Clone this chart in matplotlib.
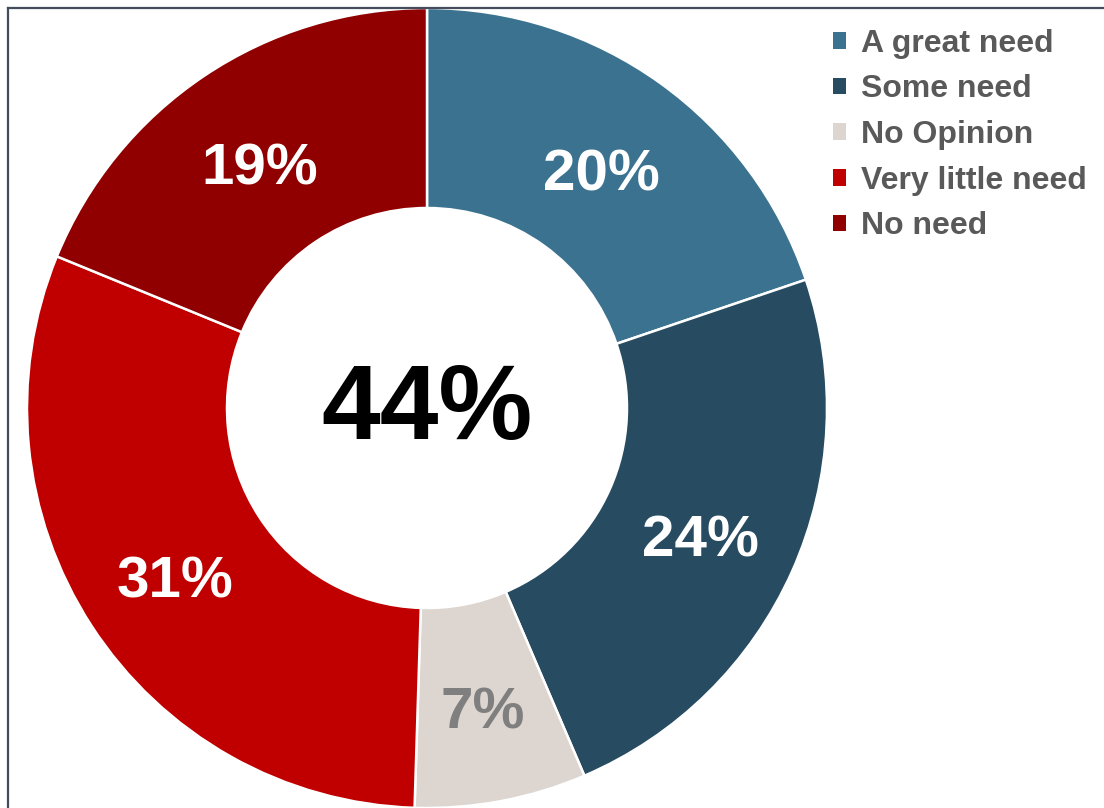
import matplotlib
matplotlib.use('Agg')
import numpy as np
import matplotlib.pyplot as plt
from matplotlib.patches import Patch
from matplotlib.lines import Line2D

# survey answers, going clockwise from the top
labels = ['A great need', 'Some need', 'No Opinion', 'Very little need', 'No need']
values = [20, 24, 7, 31, 19]
colors = ['#3a728f', '#274b61', '#ddd5cf', '#c00000', '#900000']
label_colors = ['white', 'white', '#7f7f7f', 'white', 'white']

# share answering "a great need" or "some need"
total_need = values[0] + values[1]

W, H = 1104, 808
fig = plt.figure(figsize=(W / 100, H / 100), dpi=100)
ax = fig.add_axes([0, 0, 1, 1])

cx, cy, R = 427, 808 - 408, 400
wedges, _ = ax.pie(values, colors=colors, startangle=90, counterclock=False,
                   center=(cx, cy), radius=R,
                   wedgeprops=dict(width=R * 0.5, edgecolor='white', linewidth=1.8))
ax.set_xlim(0, W)
ax.set_ylim(0, H)
ax.set_aspect('auto')
ax.axis('off')

CAP = 0.716 * 100 / 72  # cap height in px per point (Arial metrics)

lab_size = 42
for w, v, c in zip(wedges, values, label_colors):
    mid = np.deg2rad((w.theta1 + w.theta2) / 2)
    r = R * 0.75
    x = cx + r * np.cos(mid)
    y = cy + r * np.sin(mid) - 5
    ax.text(x, y - lab_size * CAP / 2, f'{v}%', color=c,
            ha='center', va='baseline', fontsize=lab_size, fontweight='bold',
            family='Liberation Sans')

big_size = 76
ax.text(cx, cy + 7 - big_size * CAP / 2, f'{total_need}%', ha='center', va='baseline',
        fontsize=big_size, fontweight='bold', color='black', family='Liberation Sans')

handles = [Patch(facecolor=c, edgecolor='none') for c in colors]
leg = ax.legend(handles, labels, loc='upper left', bbox_to_anchor=(820 / W, 1 - 16 / H),
                bbox_transform=fig.transFigure, frameon=False,
                handlelength=0.42, handleheight=0.42, handletextpad=0.45,
                labelspacing=0.49, borderaxespad=0,
                prop={'family': 'Liberation Sans', 'weight': 'bold', 'size': 23})
for t in leg.get_texts():
    t.set_color('#595959')

# frame on the left and top edges
fig.add_artist(Line2D([8 / W, 8 / W], [0, 1 - 8 / H], transform=fig.transFigure,
                      color='#454c5c', linewidth=1.6))
fig.add_artist(Line2D([8 / W, 1], [1 - 8 / H, 1 - 8 / H], transform=fig.transFigure,
                      color='#454c5c', linewidth=1.6))

fig.savefig('out.png', dpi=100, facecolor='white')
